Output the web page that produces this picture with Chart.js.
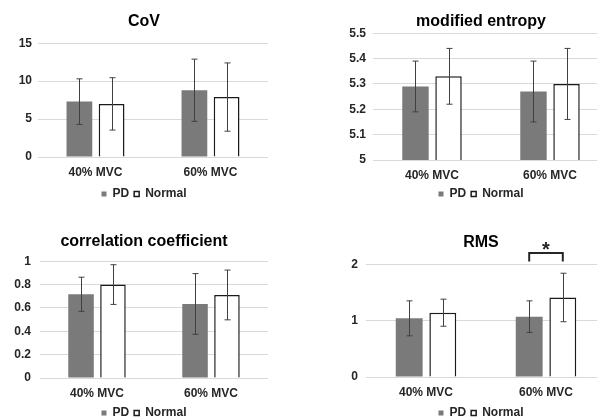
<!DOCTYPE html>
<html>
<head>
<meta charset="utf-8">
<script src="https://cdn.jsdelivr.net/npm/chart.js@4"></script>
<style>
html, body { margin: 0; padding: 0; background: #fff; }
#wrap { position: relative; width: 597px; height: 418px; overflow: hidden; }
.panel { position: absolute; }
</style>
</head>
<body>
<div id="wrap">
  <div class="panel" style="left:0px;top:0px"><canvas id="cov" width="288" height="210"></canvas></div>
  <div class="panel" style="left:337px;top:0px"><canvas id="entropy" width="288" height="210"></canvas></div>
  <div class="panel" style="left:0px;top:208px"><canvas id="corr" width="288" height="221"></canvas></div>
  <div class="panel" style="left:336px;top:208px"><canvas id="rms" width="290" height="221"></canvas></div>
</div>
<script>
var categories = ['40% MVC', '60% MVC'];
var seriesNames = ['PD', 'Normal'];

// CoV
var covPD = [7.3, 8.8];
var covPDsd = [3.0, 4.1];
var covNormal = [7.0, 7.9];
var covNormalSd = [3.45, 4.5];
var covTicks = [0, 5, 10, 15];

// modified entropy
var entPD = [5.29, 5.27];
var entPDsd = [0.10, 0.12];
var entNormal = [5.33, 5.30];
var entNormalSd = [0.11, 0.14];
var entTicks = [5, 5.1, 5.2, 5.3, 5.4, 5.5];

// correlation coefficient
var corPD = [0.717, 0.634];
var corPDsd = [0.146, 0.26];
var corNormal = [0.80, 0.711];
var corNormalSd = [0.17, 0.213];
var corTicks = [0, 0.2, 0.4, 0.6, 0.8, 1];

// RMS
var rmsPD = [1.04, 1.07];
var rmsPDsd = [0.31, 0.28];
var rmsNormal = [1.14, 1.41];
var rmsNormalSd = [0.24, 0.43];
var rmsTicks = [0, 1, 2];

var textColor = '#262626';
var tickFont = { family: 'Liberation Sans, Arial, sans-serif', size: 12, weight: 'bold' };

// draws mean +/- sd whiskers on every bar
var errorBars = {
    id: 'errorBars',
    afterDatasetsDraw: function (chart) {
        var ctx = chart.ctx;
        var y = chart.scales.y;
        chart.data.datasets.forEach(function (ds, i) {
            chart.getDatasetMeta(i).data.forEach(function (bar, j) {
                var x = Math.round(bar.x) + 0.5;
                var top = y.getPixelForValue(ds.data[j] + ds.errors[j]);
                var bot = y.getPixelForValue(ds.data[j] - ds.errors[j]);
                ctx.save();
                ctx.strokeStyle = '#404040';
                ctx.lineWidth = 1;
                ctx.beginPath();
                ctx.moveTo(x, top); ctx.lineTo(x, bot);
                ctx.moveTo(x - 3, top); ctx.lineTo(x + 3, top);
                ctx.moveTo(x - 3, bot); ctx.lineTo(x + 3, bot);
                ctx.stroke();
                ctx.restore();
            });
        });
    }
};

// significance bracket between the two bars of one category
var sigBracket = {
    id: 'sigBracket',
    afterDraw: function (chart, args, opts) {
        if (!opts || opts.index === undefined) return;
        var ctx = chart.ctx;
        var y = chart.scales.y;
        var a = chart.getDatasetMeta(0).data[opts.index];
        var b = chart.getDatasetMeta(1).data[opts.index];
        var yTop = y.getPixelForValue(opts.level);
        var yEnd = y.getPixelForValue(opts.end);
        ctx.save();
        ctx.strokeStyle = '#262626';
        ctx.lineWidth = 2;
        ctx.beginPath();
        ctx.moveTo(a.x, yEnd); ctx.lineTo(a.x, yTop);
        ctx.lineTo(b.x, yTop); ctx.lineTo(b.x, yEnd);
        ctx.stroke();
        ctx.fillStyle = '#262626';
        ctx.font = 'bold 20px "Liberation Sans", Arial, sans-serif';
        ctx.textAlign = 'center';
        ctx.textBaseline = 'alphabetic';
        ctx.fillText(opts.label, (a.x + b.x) / 2, yTop + 3);
        ctx.restore();
    }
};

function drawPanel(id, cfg) {
    return new Chart(document.getElementById(id), {
        type: 'bar',
        data: {
            labels: categories,
            datasets: [{
                label: seriesNames[0],
                data: cfg.pd,
                errors: cfg.pdSd,
                backgroundColor: '#7a7a7a',
                borderWidth: 0
            }, {
                label: seriesNames[1],
                data: cfg.normal,
                errors: cfg.normalSd,
                backgroundColor: '#ffffff',
                borderColor: '#1a1a1a',
                borderWidth: 1.5
            }]
        },
        options: {
            responsive: false,
            animation: false,
            datasets: { bar: { categoryPercentage: 0.56, barPercentage: 0.8 } },
            plugins: {
                title: {
                    display: true,
                    text: cfg.title,
                    color: '#000',
                    font: { family: 'Liberation Sans, Arial, sans-serif', size: 16, weight: 'bold' },
                    padding: cfg.titlePad
                },
                legend: {
                    position: 'bottom',
                    labels: { boxWidth: 5, boxHeight: 5, padding: 5, color: textColor, font: tickFont }
                },
                tooltip: { enabled: false },
                sigBracket: cfg.bracket || {}
            },
            scales: {
                x: {
                    grid: { display: false, drawTicks: false },
                    border: { display: false },
                    ticks: { color: textColor, font: tickFont, padding: 8 },
                    afterFit: function (s) { s.height = cfg.xh; }
                },
                y: {
                    min: cfg.ticks[0],
                    max: cfg.ticks[cfg.ticks.length - 1],
                    grid: { color: '#d9d9d9', drawTicks: false },
                    border: { display: false },
                    ticks: {
                        color: textColor, font: tickFont, padding: cfg.yPad,
                        callback: function (v) { return String(v); }
                    },
                    afterBuildTicks: function (s) {
                        s.ticks = cfg.ticks.map(function (v) { return { value: v }; });
                    },
                    afterFit: function (s) { s.width = cfg.yw; }
                },
                pad: {
                    type: 'linear',
                    position: 'right',
                    grid: { display: false, drawTicks: false },
                    border: { display: false },
                    ticks: { display: false },
                    afterFit: function (s) { s.width = cfg.rw; }
                }
            }
        },
        plugins: [errorBars, sigBracket]
    });
}

drawPanel('cov', {
    title: 'CoV', pd: covPD, pdSd: covPDsd, normal: covNormal, normalSd: covNormalSd, ticks: covTicks,
    titlePad: { top: 12, bottom: 12 }, xh: 26, yw: 38, yPad: 6, rw: 20
});
drawPanel('entropy', {
    title: 'modified entropy', pd: entPD, pdSd: entPDsd, normal: entNormal, normalSd: entNormalSd, ticks: entTicks,
    titlePad: { top: 12, bottom: 2 }, xh: 23, yw: 36, yPad: 7, rw: 16
});
drawPanel('corr', {
    title: 'correlation coefficient', pd: corPD, pdSd: corPDsd, normal: corNormal, normalSd: corNormalSd, ticks: corTicks,
    titlePad: { top: 24, bottom: 10 }, xh: 24, yw: 40, yPad: 9, rw: 20
});
drawPanel('rms', {
    title: 'RMS', pd: rmsPD, pdSd: rmsPDsd, normal: rmsNormal, normalSd: rmsNormalSd, ticks: rmsTicks,
    titlePad: { top: 25, bottom: 12 }, xh: 25, yw: 30, yPad: 8, rw: 20,
    bracket: { index: 1, level: 2.2, end: 2.05, label: '*' }
});
</script>
</body>
</html>
